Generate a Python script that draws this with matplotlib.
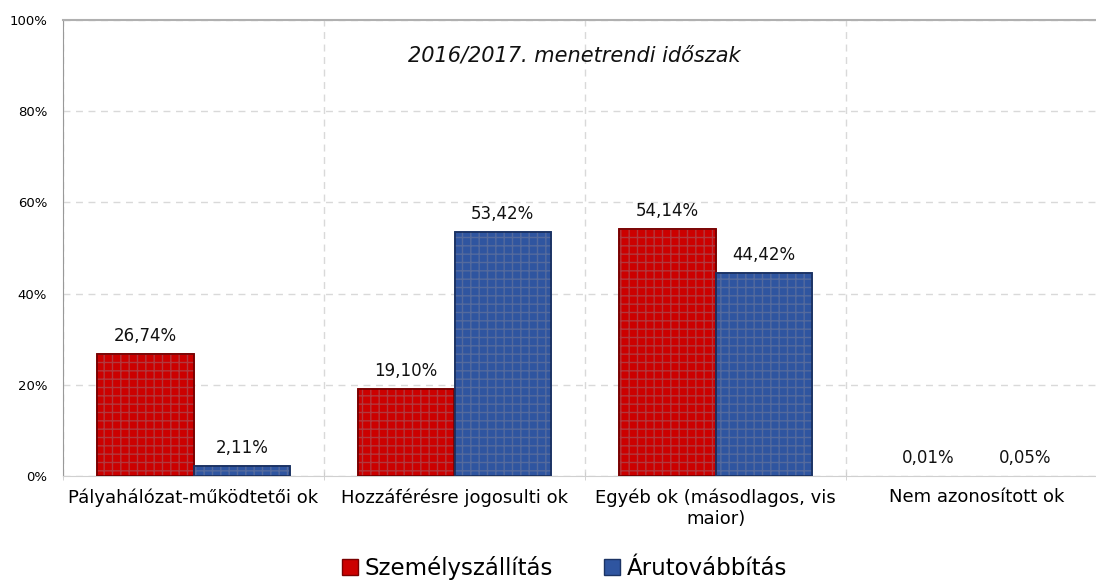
import numpy as np
import matplotlib.pyplot as plt
from matplotlib.patches import Patch

# ── Data ───────────────────────────────────────────────────────────────────────
categories = ["Pályahálózat-működtetői ok", "Hozzáférésre jogosulti ok",
              "Egyéb ok (másodlagos, vis\nmaior)", "Nem azonosított ok"]
szemely    = [26.74, 19.10, 54.14, 0.01]
aru        = [2.11, 53.42, 44.42, 0.05]
series_names = ["Személyszállítás", "Árutovábbítás"]
yticks     = [0, 20, 40, 60, 80, 100]
title      = "2016/2017. menetrendi időszak"

# ── Styling ────────────────────────────────────────────────────────────────────
plt.rcParams['font.family'] = ['DejaVu Sans']
RED, RED_EDGE   = "#cc0000", "#7a0000"
BLUE, BLUE_EDGE = "#2f55a0", "#1b3364"
BAR_W = 0.37
OFFS  = 0.185

fig = plt.figure(figsize=(10.96, 5.83), dpi=100)
ax = fig.add_axes([63/1096, 107/583, 1044/1096, 456/583])

x = np.arange(len(categories))

def draw(xpos, vals, face, edge):
    lw = [1.2 if v > 0.5 else 0 for v in vals]
    ax.bar(xpos, vals, BAR_W, color=face, edgecolor=edge, linewidth=lw, zorder=3)
    # fine grid texture
    ax.bar(xpos, vals, BAR_W, facecolor="none", edgecolor=(0.55, 0.55, 0.6, 0.4),
           hatch="++", linewidth=0, zorder=4)
    ax.bar(xpos, vals, BAR_W, facecolor="none", edgecolor=edge, linewidth=lw, zorder=5)

draw(x - OFFS, szemely, RED, RED_EDGE)
draw(x + OFFS, aru, BLUE, BLUE_EDGE)

def fmt(v):
    return f"{v:.2f}".replace(".", ",") + "%"

for xi, v in zip(x - OFFS, szemely):
    ax.text(xi, v + 2.0, fmt(v), ha="center", va="bottom", fontsize=12, color="#111111")
for xi, v in zip(x + OFFS, aru):
    ax.text(xi, v + 2.0, fmt(v), ha="center", va="bottom", fontsize=12, color="#111111")

ax.set_xlim(-0.5, len(categories) - 0.5)
ax.set_ylim(0, 100)
ax.set_yticks(yticks)
ax.set_yticklabels([f"{t}%" for t in yticks], fontsize=9.5)
ax.tick_params(axis="y", length=0, pad=11.5)

ax.set_xticks(x)
ax.set_xticklabels(categories, fontsize=13)
ax.tick_params(axis="x", length=0, pad=9)
ax.set_xticks(np.arange(len(categories) + 1) - 0.5, minor=True)
ax.tick_params(axis="x", which="minor", length=6, direction="inout", color="#cccccc")

ax.grid(axis="y", linestyle=(0, (5, 4)), color="#d9d9d9", linewidth=1, zorder=0)
ax.grid(axis="x", which="minor", linestyle=(0, (5, 4)), color="#d9d9d9", linewidth=1, zorder=0)
ax.grid(axis="x", which="major", visible=False)

ax.spines["left"].set_color("#999999")
ax.spines["top"].set_color("#b0b0b0")
ax.spines["top"].set_linewidth(1.5)
ax.spines["bottom"].set_color("#d0d0d0")
ax.spines["right"].set_visible(False)

ax.text(0.49, 0.923, title, transform=ax.transAxes, ha="center", va="center",
        fontsize=15, style="italic", color="#111111")

handles = [Patch(facecolor=RED, edgecolor=RED_EDGE, label=series_names[0]),
           Patch(facecolor=BLUE, edgecolor=BLUE_EDGE, label=series_names[1])]
fig.legend(handles=handles, loc="lower center", bbox_to_anchor=(0.515, -0.03),
           ncol=2, frameon=False, fontsize=16.5, handlelength=0.7, handleheight=0.7,
           handletextpad=0.3, columnspacing=2.2)

fig.savefig("out.png", dpi=100)
